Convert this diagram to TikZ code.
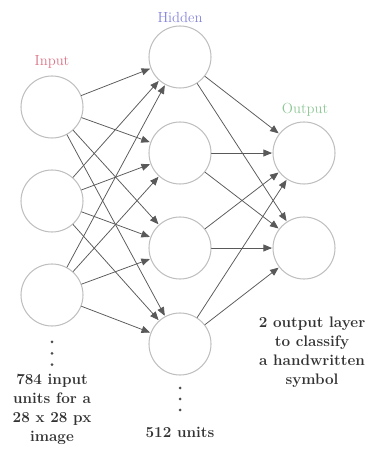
\documentclass[tikz,border=0pt]{standalone}
\usepackage{tikz,pgf}
\usetikzlibrary{arrows}
\definecolor{inred}{rgb}{0.86,0.45,0.52}
\definecolor{hidblue}{rgb}{0.52,0.52,0.86}
\definecolor{outgreen}{rgb}{0.55,0.78,0.58}
\tikzset{
	unit/.style={circle,draw=black!25,line width=0.9pt,minimum size=1.86cm,inner sep=0pt},
	layername/.style={font=\fontsize{12.5}{14}\selectfont},
	note/.style={align=center,text=black!80,font=\fontsize{13}{16.2}\selectfont\bfseries},
	wire/.style={->,draw=black!65,line width=0.65pt,shorten >=0.5pt}
}
\begin{document}
\begin{tikzpicture}[line cap=round,line join=round,>=triangle 45,x=1.0cm,y=1.0cm]
		\useasboundingbox (0,0) rectangle (11.13,13.65);
		% input layer
		\node[unit] (in1) at (1.56,10.44) {};
		\node[unit] (in2) at (1.56,7.62) {};
		\node[unit] (in3) at (1.56,4.80) {};
		% hidden layer
		\node[unit] (hid1) at (5.40,11.94) {};
		\node[unit] (hid2) at (5.40,9.06) {};
		\node[unit] (hid3) at (5.40,6.21) {};
		\node[unit] (hid4) at (5.40,3.33) {};
		% output layer
		\node[unit] (out1) at (9.12,9.06) {};
		\node[unit] (out2) at (9.12,6.21) {};

		\node[layername,text=inred] (inname) at (1.56,11.79) {Input};
		\node[layername,text=hidblue] (hidname) at (5.40,13.14) {Hidden};
		\node[layername,text=outgreen] (outname) at (9.15,10.35) {Output};

		\draw [wire] (in1) -- (hid1);
		\draw [wire] (in1) -- (hid2);
		\draw [wire] (in1) -- (hid3);
		\draw [wire] (in1) -- (hid4);
		\draw [wire] (in2) -- (hid1);
		\draw [wire] (in2) -- (hid2);
		\draw [wire] (in2) -- (hid3);
		\draw [wire] (in2) -- (hid4);
		\draw [wire] (in3) -- (hid1);
		\draw [wire] (in3) -- (hid2);
		\draw [wire] (in3) -- (hid3);
		\draw [wire] (in3) -- (hid4);
		\draw [wire] (hid1) -- (out1);
		\draw [wire] (hid1) -- (out2);
		\draw [wire] (hid2) -- (out1);
		\draw [wire] (hid2) -- (out2);
		\draw [wire] (hid3) -- (out1);
		\draw [wire] (hid3) -- (out2);
		\draw [wire] (hid4) -- (out1);
		\draw [wire] (hid4) -- (out2);

		\fill[black!70] (1.56,3.39) circle (0.045);
		\fill[black!70] (1.56,3.05) circle (0.045);
		\fill[black!70] (1.56,2.71) circle (0.045);
		\fill[black!70] (5.40,2.01) circle (0.045);
		\fill[black!70] (5.40,1.68) circle (0.045);
		\fill[black!70] (5.40,1.35) circle (0.045);

		\node[note] (innote) at (1.56,1.36) {784 input\\units for a\\28 x 28 px\\image};
		\node[note] (hidnote) at (5.40,0.69) {512 units};
		\node[note] (outnote) at (9.36,3.09) {2 output layer\\to classify\\a handwritten\\symbol};
	\end{tikzpicture}
\end{document}
